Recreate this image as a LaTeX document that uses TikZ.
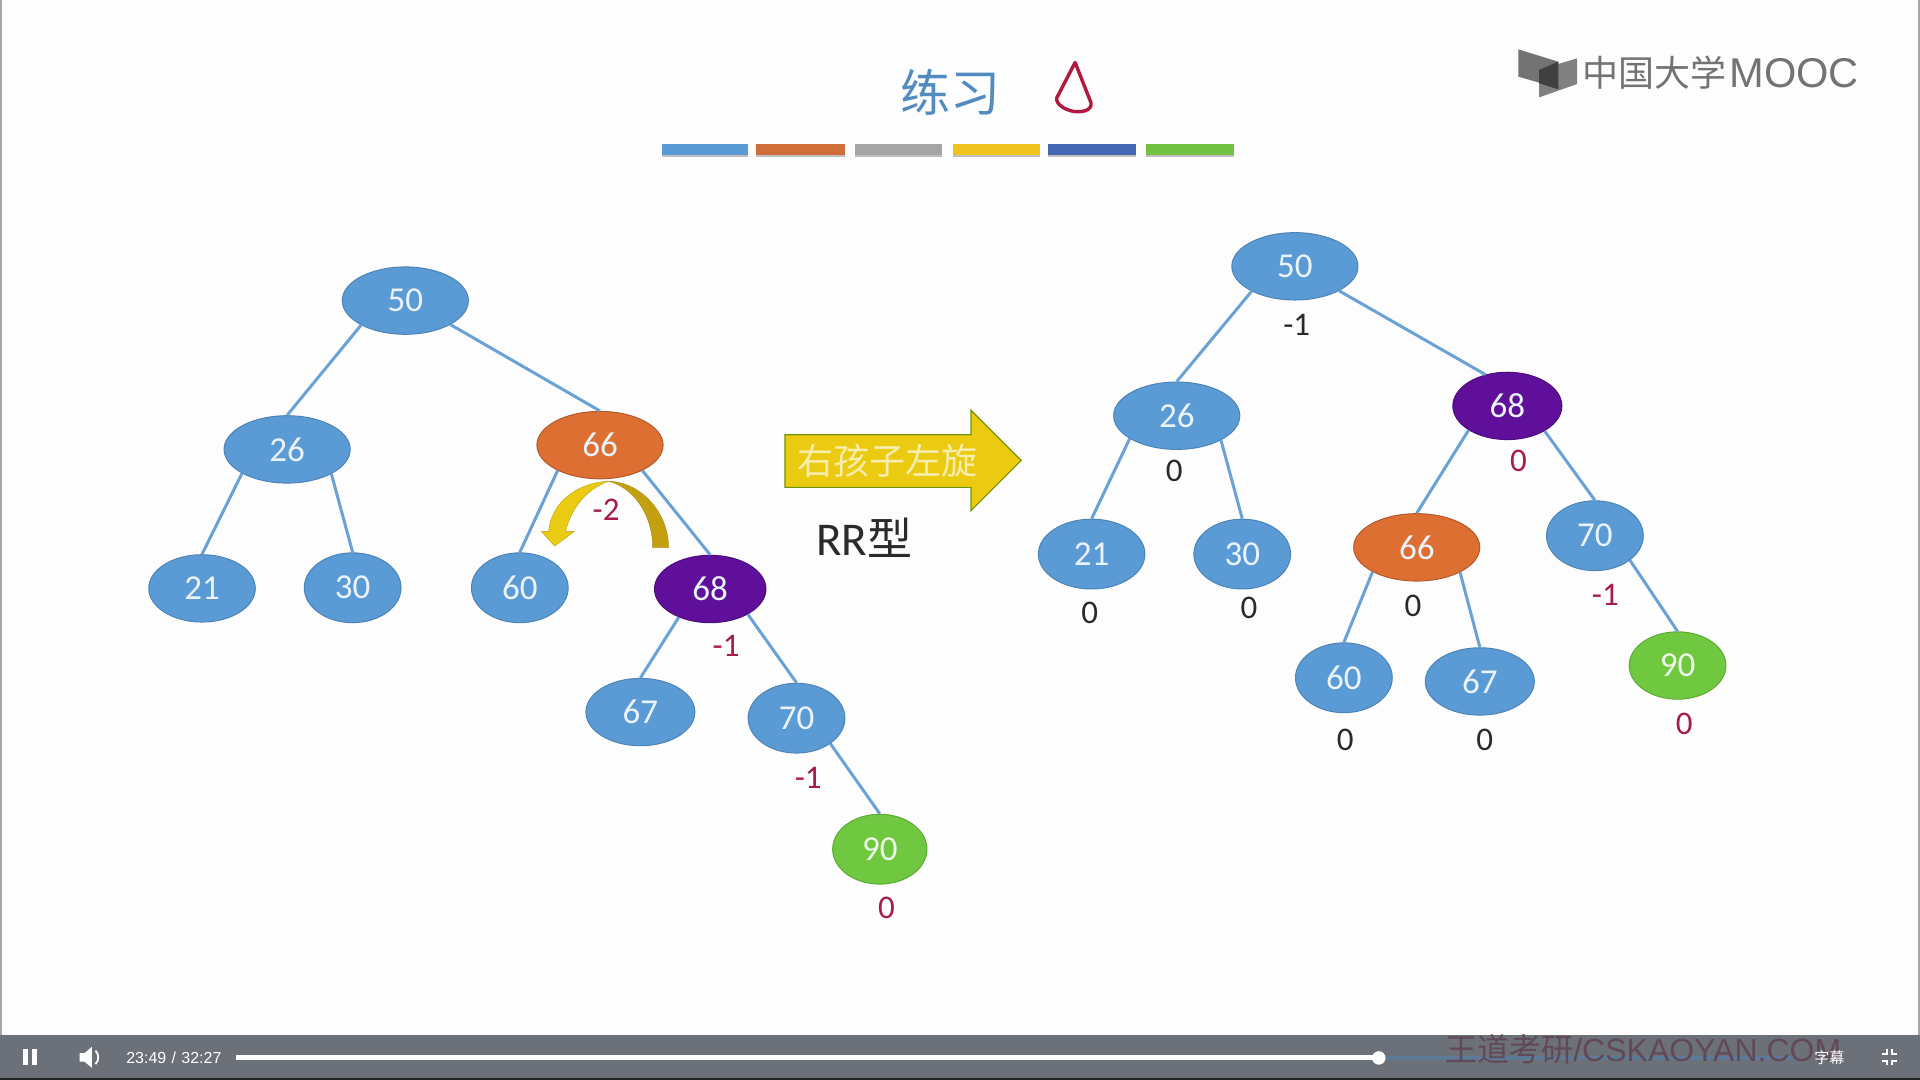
\documentclass[tikz,border=0pt]{standalone}
\usepackage{fontspec}
\setmainfont{Carlito}
\newfontfamily\cjk{Noto Sans CJK SC}
\newfontfamily\lib{Liberation Sans}
\usetikzlibrary{shapes.geometric}
\definecolor{treeblue}{HTML}{5B9BD5}
\definecolor{treeedge}{HTML}{6AA2D6}
\definecolor{treeorange}{HTML}{DD6F33}
\definecolor{treepurple}{HTML}{5F0F9A}
\definecolor{treegreen}{HTML}{70C840}
\definecolor{balred}{HTML}{A81C48}
\definecolor{balblack}{HTML}{2A2A2A}
\definecolor{arrowyellow}{HTML}{EBCB12}
\definecolor{arrowdark}{HTML}{C4A010}
\definecolor{barcol}{HTML}{6B7079}
\definecolor{paper}{HTML}{FDFDFE}
\tikzset{
  x=0.6122pt,y=-0.6122pt,
  avl/.style 2 args={ellipse,inner sep=0pt,minimum width=#1*0.6122pt-0.6pt,minimum height=#2*0.6122pt-0.6pt,
     fill=treeblue,draw=treeblue!85!black,line width=0.5pt,text=white!88!treeblue,
     font=\fontsize{17.5}{17.5}\selectfont},
  org/.style={fill=treeorange,draw=treeorange!80!black},
  pur/.style={fill=treepurple,draw=treepurple!80!black},
  grn/.style={fill=treegreen,draw=treegreen!85!black,text=white!88!treegreen},
  link/.style={draw=treeedge,line width=1.5pt},
  bal/.style={inner sep=0pt,font=\fontsize{16.5}{16.5}\selectfont},
  redbal/.style={bal,text=balred},
  blkbal/.style={bal,text=balblack},
  ctl/.style={fill=white,draw=none},
}
\begin{document}
\begin{tikzpicture}
\useasboundingbox (0,0) rectangle (1568,882);
\fill[paper] (0,0) rectangle (1568,882);
\fill[black!35] (0,0) rectangle (2,845);
\fill[black!35] (1566,0) rectangle (1568,845);

% title
\node[inner sep=0pt,text=treeblue!90!black,font=\cjk\fontsize{25}{25}\selectfont] (title) at (776,75) {练习};
\draw[draw=balred!90!red,line width=1.7pt,line join=round,line cap=round]
  (878,51) -- (863,80)
  .. controls (862,85) and (870,90) .. (877,91)
  .. controls (884,92) and (892,90) .. (891,84)
  -- (878,51);
\foreach \a/\b/\c in {541/611/5B9BD5,617/690/CF6E39,698/769/A5A5A5,778/849/EFC420,856/928/4668B4,936/1008/72C044}{
  \definecolor{tmpc}{HTML}{\c}
  \fill[black!25] (\a,120) rectangle (\b,128.5);
  \fill[tmpc] (\a,118) rectangle (\b,126.5);
}

% logo
\fill[black!55] (1240,40.3) -- (1272.6,50.4) -- (1272.6,72) -- (1240,62.6) -- cycle;
\fill[black!50] (1257,57) -- (1288,47.6) -- (1288,68.6) -- (1257,79.5) -- cycle;
\fill[black!75] (1257,57) -- (1272.6,50.4) -- (1272.6,73) -- (1257,68) -- cycle;
\node[inner sep=0pt,anchor=west,text=black!55,font=\cjk\fontsize{18}{18}\selectfont] (logocn) at (1292,59) {中国大学};
\node[inner sep=0pt,anchor=west,text=black!55,font=\lib\fontsize{20.8}{20.8}\selectfont] (logoen) at (1412,60) {MOOC};

% left tree
\node[avl={104}{56}] (a50) at (331,245.5) {50};
\node[avl={104}{56}] (a26) at (234.5,367) {26};
\node[avl={104}{56},org] (a66) at (490,363.5) {66};
\node[avl={88}{56}] (a21) at (165,480.5) {21};
\node[avl={80}{58}] (a30) at (288,480) {30};
\node[avl={80}{58}] (a60) at (424.5,480) {60};
\node[avl={92}{56},pur] (a68) at (580,481) {68};
\node[avl={90}{56}] (a67) at (523,581.5) {67};
\node[avl={80}{58}] (a70) at (650.5,586.5) {70};
\node[avl={78}{58},grn] (a90) at (718.5,693.5) {90};
\draw[link] (a50.209) -- (a26.north);
\draw[link] (a50.-28) -- (a66.north);
\draw[link] (a26.-152) -- (a21.north);
\draw[link] (a26.-29) -- (a30.north);
\draw[link] (a66.-149) -- (a60.north);
\draw[link] (a66.-31) -- (a68.north);
\draw[link] (a68.-138) -- (a67.north);
\draw[link] (a68.-34) -- (a70.north);
\draw[link] (a70.-37) -- (a90.north);
\node[redbal] (ba66) at (495,416.5) {-2};
\node[redbal] (ba68) at (593,527.5) {-1};
\node[redbal] (ba70) at (660,635.5) {-1};
\node[redbal] (ba90) at (724,741.5) {0};

% curved rotation arrow
\fill[arrowdark,draw=arrowdark!85!black,line width=0.2pt] (546,447)
  .. controls (546,420) and (525,394) .. (497,393)
  .. controls (517,398) and (533,420) .. (533,447) -- cycle;
\fill[arrowyellow,draw=arrowyellow!80!black,line width=0.2pt] (497,393)
  .. controls (472,394) and (450,410) .. (448,434)
  -- (442,434) -- (453,446) -- (469,434) -- (462,434)
  .. controls (466,416) and (478,400) .. (497,393) -- cycle;

% block arrow
\draw[fill=arrowyellow,draw=black!40!arrowyellow!80!green,line width=0.6pt]
  (641,355) -- (793,355) -- (793,335) -- (834,376) -- (793,417) -- (793,398) -- (641,398) -- cycle;
\node[inner sep=0pt,text=white!65!arrowyellow,font=\cjk\fontsize{18}{18}\selectfont] (rot) at (725,376) {右孩子左旋};
\node[inner sep=0pt,text=balblack,font=\fontsize{23.5}{23.5}\selectfont] (rr) at (706,439) {RR{\cjk\fontsize{22.5}{22.5}\selectfont 型}};

% right tree
\node[avl={104}{56}] (b50) at (1057.5,217.5) {50};
\node[avl={104}{56}] (b26) at (961,339.5) {26};
\node[avl={90}{56},pur] (b68) at (1231,331.5) {68};
\node[avl={88}{58}] (b21) at (891.5,452.5) {21};
\node[avl={80}{58}] (b30) at (1014.5,452.5) {30};
\node[avl={104}{56},org] (b66) at (1157,447) {66};
\node[avl={80}{58}] (b70) at (1302.5,437.5) {70};
\node[avl={80}{58}] (b60) at (1097.5,553.5) {60};
\node[avl={90}{56}] (b67) at (1208.5,556.5) {67};
\node[avl={80}{56},grn] (b90) at (1370,543.5) {90};
\draw[link] (b50.-150) -- (b26.north);
\draw[link] (b50.-29) -- (b68.125);
\draw[link] (b26.-154) -- (b21.north);
\draw[link] (b26.-29) -- (b30.north);
\draw[link] (b68.-148) -- (b66.north);
\draw[link] (b68.-34) -- (b70.north);
\draw[link] (b66.-151) -- (b60.north);
\draw[link] (b66.-30) -- (b67.north);
\draw[link] (b70.-35) -- (b90.north);
\node[blkbal] (bb50) at (1059,265) {-1};
\node[blkbal] (bb26) at (959,384.5) {0};
\node[redbal] (bb68) at (1240,376.5) {0};
\node[blkbal] (bb21) at (890,500.5) {0};
\node[blkbal] (bb30) at (1020,496.5) {0};
\node[blkbal] (bb66) at (1154,494.5) {0};
\node[redbal] (bb70) at (1311,485.5) {-1};
\node[blkbal] (bb60) at (1098.5,604.5) {0};
\node[blkbal] (bb67) at (1212.5,604.5) {0};
\node[redbal] (bb90) at (1375.5,591.5) {0};

% player bar
\fill[barcol] (0,845) rectangle (1568,882);
\fill[black!70!barcol] (0,880.5) rectangle (1568,882);
\fill[ctl] (19,857) rectangle (23,870);
\fill[ctl] (26,857) rectangle (30,870);
\fill[ctl] (65,860) -- (69,860) -- (75,855) -- (75,872) -- (69,867) -- (65,867) -- cycle;
\draw[white,line width=0.9pt] (78,858) .. controls (81,861) and (81,866) .. (78,869);
\node[inner sep=0pt,text=white,font=\lib\fontsize{8}{8}\selectfont] (clock) at (142,864) {23:49\,\,/\,\,32:27};
\fill[black!15!treeblue!50!barcol] (1126,862) rectangle (1465,865.5);
\node[inner sep=0pt,text=black!50!balred!40!barcol,font=\lib\fontsize{16}{16}\selectfont] (mark) at (1342,857) {{\cjk 王道考研}/CSKAOYAN.COM};
\fill[white] (193,861.5) rectangle (1126,866);
\fill[white] (1126,864) circle[radius=5.5];
\node[inner sep=0pt,text=white,font=\cjk\fontsize{7.5}{7.5}\selectfont] (subs) at (1494,864) {字幕};
\draw[white,line width=1.1pt] (1537,860.5) -- (1541,860.5) -- (1541,857);
\draw[white,line width=1.1pt] (1549,860.5) -- (1545,860.5) -- (1545,857);
\draw[white,line width=1.1pt] (1537,866.5) -- (1541,866.5) -- (1541,870);
\draw[white,line width=1.1pt] (1549,866.5) -- (1545,866.5) -- (1545,870);
\end{tikzpicture}
\end{document}
